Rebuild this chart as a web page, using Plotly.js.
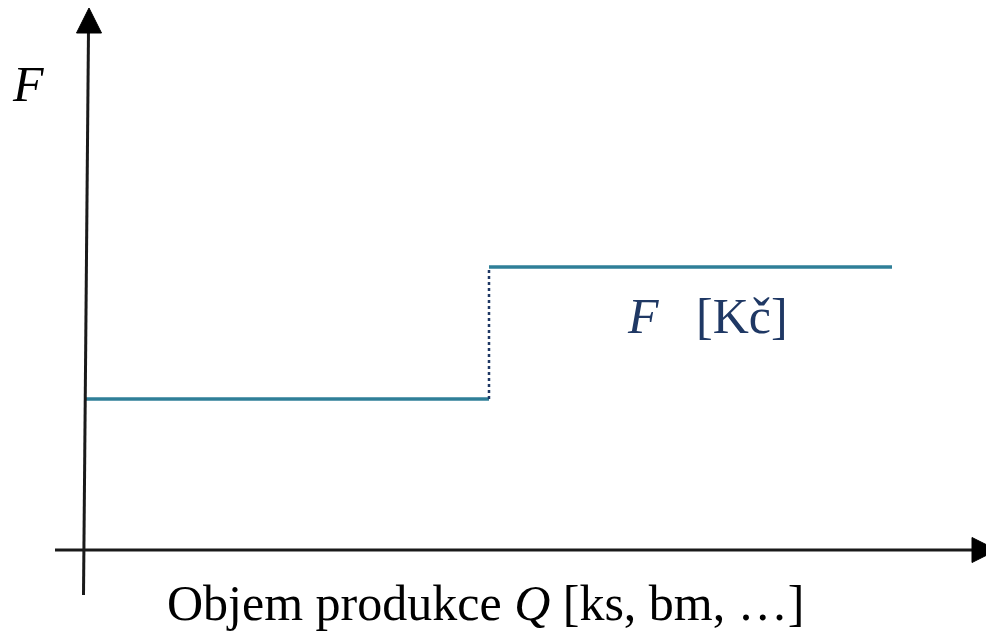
<!DOCTYPE html>
<html>
<head>
<meta charset="utf-8">
<script src="https://cdn.plot.ly/plotly-3.0.1.min.js"></script>
<style>html,body{margin:0;padding:0;background:#fff;}#chart{width:986px;height:633px;}</style>
</head>
<body>
<div id="chart"></div>
<script>
// Data (conceptual units)
const qBreaks = [0, 50, 100];      // production volume Q: start, step, end
const fLevels = [40, 75];          // fixed cost F: level before and after the step
const seriesLabel = "<i>F</i>&nbsp;&nbsp; [Kč]";
const yAxisLabel = "<i>F</i>";
const xAxisLabel = "Objem produkce <i>Q</i> [ks, bm, …]";

// Layout geometry (pixels)
const W = 986, H = 633;
const ox = 86, oy = 550;           // pixel position of origin
const ux = 8.06, uy = 3.775;       // pixels per unit
const px2x = p => (p - ox) / ux;
const py2y = p => (oy - p) / uy;

const teal = '#2F7F98';
const navy = '#1F3864';

const traces = [
  { x: [qBreaks[0], qBreaks[1]], y: [fLevels[0], fLevels[0]], mode: 'lines',
    line: { color: teal, width: 3.5 }, hoverinfo: 'skip' },
  { x: [qBreaks[1], qBreaks[2]], y: [fLevels[1], fLevels[1]], mode: 'lines',
    line: { color: teal, width: 3.5 }, hoverinfo: 'skip' },
  { x: [qBreaks[1], qBreaks[1]], y: [fLevels[0], fLevels[1]], mode: 'lines',
    line: { color: navy, width: 2.5, dash: 'dot' }, hoverinfo: 'skip' }
];

const axisColor = '#1a1a1a';
const shapes = [
  { type: 'line', xref: 'x', yref: 'y', x0: px2x(83.5), y0: py2y(595), x1: px2x(88.5), y1: py2y(30),
    line: { color: axisColor, width: 3 } },
  { type: 'path', xref: 'x', yref: 'y',
    path: `M ${px2x(89)} ${py2y(8)} L ${px2x(76.5)} ${py2y(33)} L ${px2x(101.5)} ${py2y(33)} Z`,
    fillcolor: '#000', line: { color: '#000', width: 1 } },
  { type: 'line', xref: 'x', yref: 'y', x0: px2x(55), y0: py2y(550), x1: px2x(975), y1: py2y(550),
    line: { color: axisColor, width: 3 } },
  { type: 'path', xref: 'x', yref: 'y',
    path: `M ${px2x(997)} ${py2y(550)} L ${px2x(972)} ${py2y(537.5)} L ${px2x(972)} ${py2y(562.5)} Z`,
    fillcolor: '#000', line: { color: '#000', width: 1 } }
];

const font = '"Liberation Serif", serif';
const annotations = [
  { text: yAxisLabel, xref: 'paper', yref: 'paper', x: 28 / W, y: 1 - 84 / H,
    showarrow: false, xanchor: 'center', yanchor: 'middle',
    font: { family: font, size: 50, color: '#000' } },
  { text: seriesLabel, xref: 'paper', yref: 'paper', x: 707 / W, y: 1 - 316 / H,
    showarrow: false, xanchor: 'center', yanchor: 'middle',
    font: { family: font, size: 50, color: navy } },
  { text: xAxisLabel, xref: 'paper', yref: 'paper', x: 485 / W, y: 1 - 603 / H,
    showarrow: false, xanchor: 'center', yanchor: 'middle',
    font: { family: font, size: 50, color: '#000' } }
];

const layout = {
  width: W, height: H,
  margin: { l: 0, r: 0, t: 0, b: 0, pad: 0 },
  paper_bgcolor: '#fff', plot_bgcolor: '#fff',
  showlegend: false,
  xaxis: { range: [px2x(0), px2x(W)], visible: false, fixedrange: true },
  yaxis: { range: [py2y(H), py2y(0)], visible: false, fixedrange: true },
  shapes: shapes,
  annotations: annotations
};

Plotly.newPlot('chart', traces, layout, { staticPlot: true, displayModeBar: false });
</script>
</body>
</html>
